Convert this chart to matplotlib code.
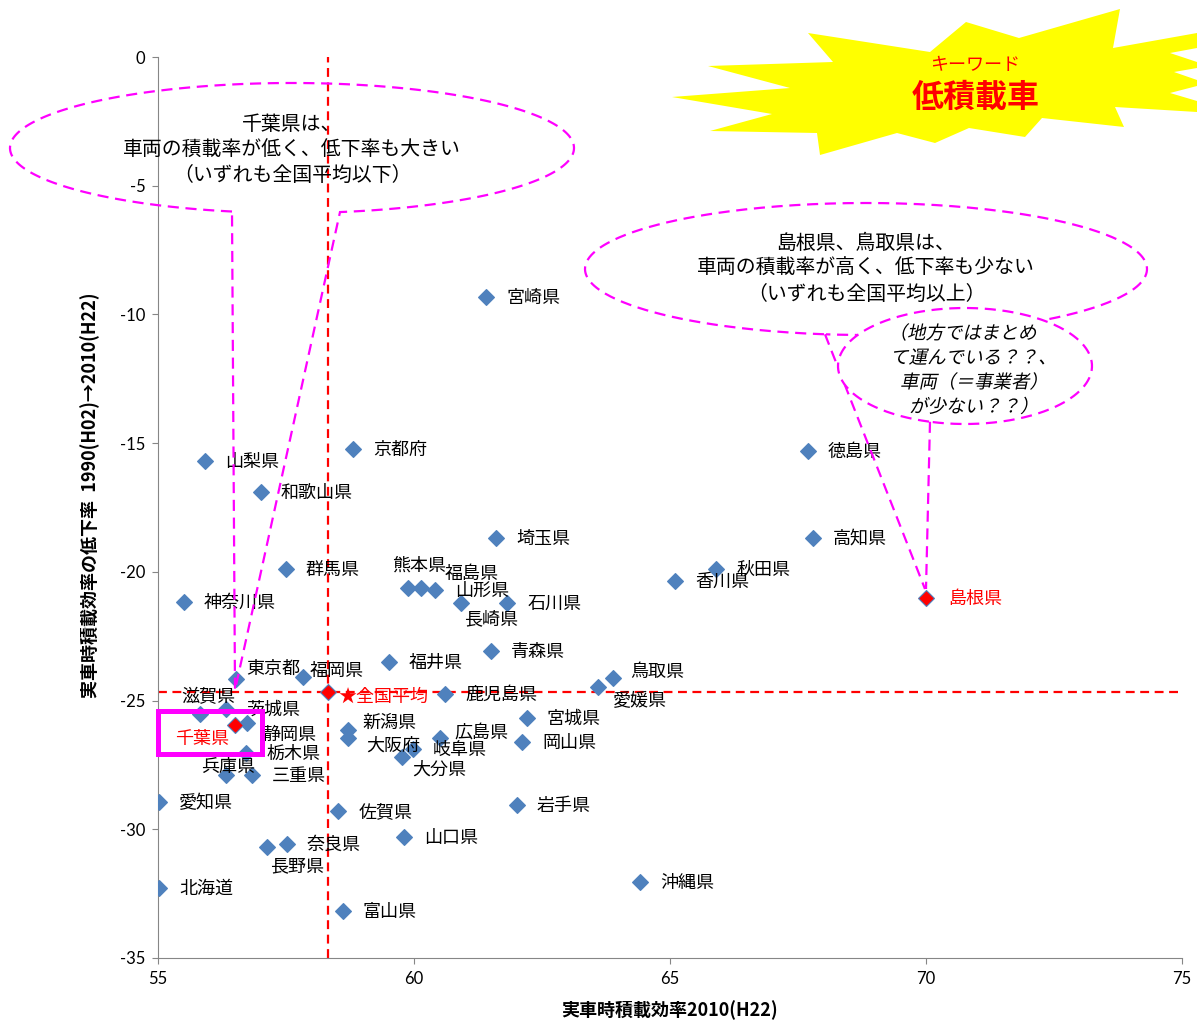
import numpy as np
import matplotlib
matplotlib.use("Agg")
import matplotlib.pyplot as plt
from matplotlib.patches import Polygon, Rectangle, PathPatch
from matplotlib.textpath import TextPath
from matplotlib.font_manager import FontProperties
from matplotlib.transforms import Affine2D

plt.rcParams["font.family"] = ["Noto Sans CJK JP", "DejaVu Sans"]
plt.rcParams["axes.unicode_minus"] = False

# 都道府県別 実車時積載効率(2010) と 1990→2010 の低下率
prefs = ["宮崎県", "京都府", "山梨県", "和歌山県", "徳島県", "埼玉県", "高知県", "群馬県",
         "秋田県", "香川県", "島根県", "神奈川県", "熊本県", "福島県", "山形県", "長崎県",
         "石川県", "青森県", "福井県", "鳥取県", "愛媛県", "東京都", "福岡県", "鹿児島県",
         "滋賀県", "茨城県", "静岡県", "千葉県", "栃木県", "兵庫県", "三重県", "新潟県",
         "大阪府", "広島県", "岐阜県", "大分県", "宮城県", "岡山県", "愛知県", "佐賀県",
         "岩手県", "山口県", "奈良県", "長野県", "北海道", "沖縄県", "富山県"]
load_eff = [61.41, 58.81, 55.92, 57.01, 67.69, 61.60, 67.79, 57.50,
            65.90, 65.10, 70.00, 55.51, 59.88, 60.14, 60.41, 60.92,
            61.82, 61.51, 59.51, 63.89, 63.59, 56.52, 57.83, 60.61,
            55.82, 56.33, 56.74, 56.50, 56.72, 56.33, 56.84, 58.71,
            58.71, 60.51, 59.98, 59.76, 62.20, 62.11, 55.02, 58.52,
            62.01, 59.80, 57.52, 57.12, 55.02, 64.41, 58.61]
decline = [-9.32, -15.22, -15.69, -16.89, -15.30, -18.68, -18.68, -19.88,
           -19.88, -20.35, -21.00, -21.17, -20.62, -20.62, -20.70, -21.20,
           -21.20, -23.07, -23.50, -24.12, -24.47, -24.17, -24.08, -24.74,
           -25.51, -25.32, -25.86, -25.94, -27.03, -27.88, -27.88, -26.14,
           -26.45, -26.45, -26.87, -27.18, -25.67, -26.60, -28.93, -29.28,
           -29.05, -30.29, -30.56, -30.68, -32.27, -32.04, -33.17]
avg_eff = 58.32
avg_decline = -24.66
highlight = ["千葉県", "島根県"]

# ラベル位置 (点からのずれ, px, 右・下が正)
label_shift = {"熊本県": (-16, -22), "福島県": (23, -14), "長崎県": (3, 16),
               "鳥取県": (17, -6), "愛媛県": (15, 14), "東京都": (10, -10),
               "福岡県": (7, -6), "滋賀県": (-19, -17), "静岡県": (15, 12),
               "千葉県": (-60, 14), "兵庫県": (-25, -8), "新潟県": (15, -7),
               "大阪府": (18, 8), "広島県": (14, -5), "大分県": (11, 13),
               "長野県": (3, 19), "島根県": (22, 1)}

BLUE = "#4F81BD"
RED = "#FF0000"
PINK = "#FF00FF"
DASH = (0, (5, 3))

W, H = 1197, 1021
fig = plt.figure(figsize=(W / 100, H / 100), dpi=100)
ax = fig.add_axes([158 / W, 1 - 958 / H, 1024 / W, 901 / H])

# 全国平均の基準線
ax.axvline(avg_eff, color=RED, lw=1.6, ls=(0, (4, 2.5)), zorder=1)
ax.axhline(avg_decline, color=RED, lw=1.6, ls=(0, (4, 2.5)), zorder=1)

for name, x, y in zip(prefs, load_eff, decline):
    red = name in highlight
    ax.plot(x, y, "D", ms=8, mfc=RED if red else BLUE, mec=BLUE, mew=0.8, zorder=3)
    dx, dy = label_shift.get(name, (20, 1))
    ax.annotate(name, (x, y), xytext=(dx, -dy), textcoords="offset pixels",
                ha="left", va="center", fontsize=13, color=RED if red else "black", zorder=4)

ax.plot(avg_eff, avg_decline, "D", ms=8, mfc=RED, mec=BLUE, mew=0.8, zorder=3)
ax.annotate("★全国平均", (avg_eff, avg_decline), xytext=(10, -5), textcoords="offset pixels",
            ha="left", va="center", fontsize=13, color=RED, zorder=4)

ax.set_xlim(55, 75)
ax.set_ylim(-35, 0)
ax.set_xticks(range(55, 76, 5))
ax.set_yticks(range(-35, 1, 5))
for side in ["top", "right"]:
    ax.spines[side].set_visible(False)
for side in ["left", "bottom"]:
    ax.spines[side].set_color("#868686")
ax.tick_params(direction="out", length=4, color="#868686", labelsize=12, pad=5)
for lbl in ax.get_xticklabels() + ax.get_yticklabels():
    lbl.set_fontfamily(["Lato", "DejaVu Sans"])

ax.set_xlabel("実車時積載効率2010(H22)", fontsize=13, fontweight="bold")
ax.xaxis.set_label_coords(0.5, -0.047)
ax.set_ylabel("実車時積載効率の低下率  1990(H02)→2010(H22)", fontsize=13, fontweight="bold")
ax.yaxis.set_label_coords(-0.057, 0.514)

# 注記用のレイヤー (ピクセル座標)
ov = fig.add_axes([0, 0, 1, 1])
ov.set_xlim(0, W)
ov.set_ylim(H, 0)
ov.axis("off")
ov.patch.set_alpha(0)

star = [(808, 33), (930, 52), (966, 22), (1019, 38), (1120, 9), (1113, 48), (1197, 33),
        (1197, 48), (1170, 53), (1197, 62), (1197, 68), (1174, 72), (1197, 80), (1197, 86),
        (1170, 93), (1197, 101), (1197, 112), (1115, 107), (1124, 127), (1042, 118),
        (1025, 137), (969, 128), (935, 143), (897, 133), (820, 155), (817, 133), (710, 131),
        (772, 114), (672, 97), (790, 88), (708, 66), (833, 62)]
ov.add_patch(Polygon(star, closed=True, fc="#FFFF00", ec="none", zorder=1))
ov.text(975, 65, "キーワード", ha="center", va="center", fontsize=13, color=RED, zorder=2)
ov.text(976, 98, "低積載車", ha="center", va="center", fontsize=23, fontweight="bold",
        color=RED, zorder=2)


def arc_pts(cx, cy, a, b, xl, xr):
    tl = np.arccos((xl - cx) / a)
    tr = np.arccos((xr - cx) / a)
    t = np.linspace(tl, tr + 2 * np.pi, 400)
    return cx + a * np.cos(t), cy + b * np.sin(t)


def bubble(cx, cy, a, b, xl, xr, tip, z=3):
    # 楕円＋三角のしっぽ
    xs, ys = arc_pts(cx, cy, a, b, xl, xr)
    ov.add_patch(Polygon(np.c_[np.r_[xs, tip[0]], np.r_[ys, tip[1]]], closed=True,
                         fc="none", ec=PINK, lw=1.6, ls=DASH, zorder=z))


def bubble_line(cx, cy, a, b, x0, tip, fill=False, z=3):
    # 楕円＋線一本のしっぽ
    xs, ys = arc_pts(cx, cy, a, b, x0 - 1, x0 + 1)
    if fill:
        ov.fill(xs, ys, color="white", zorder=z)
    ov.plot(xs, ys, color=PINK, lw=1.6, ls=DASH, zorder=z)
    y0 = cy + b * np.sqrt(1 - ((x0 - cx) / a) ** 2)
    ov.plot([x0, tip[0]], [y0, tip[1]], color=PINK, lw=1.6, ls=DASH, zorder=z)


bubble(292, 148, 282, 65, 232, 340, (235, 690))
for i, line in enumerate(["千葉県は、", "車両の積載率が低く、低下率も大きい", "（いずれも全国平均以下）"]):
    ov.text(292, 125 + 25 * i, line, ha="center", va="center", fontsize=14.3, zorder=4)

bubble_line(866, 269, 281, 66, 825, (925, 589))
for i, line in enumerate(["島根県、鳥取県は、", "車両の積載率が高く、低下率も少ない", "（いずれも全国平均以上）"]):
    ov.text(866, 243 + 25.5 * i, line, ha="center", va="center", fontsize=14.3, zorder=4)

bubble_line(965, 366, 127, 58, 930, (926, 589), fill=True, z=3.5)

# 斜体の注記 (CJK フォントに斜体がないため傾けて描く)
fp = FontProperties(family="Noto Sans CJK JP")
for i, line in enumerate(["（地方ではまとめ", "て運んでいる？？、", "車両（＝事業者）", "が少ない？？）"]):
    tp = TextPath((0, 0), line, size=18.5, prop=fp)
    bb = tp.get_extents()
    tr = (Affine2D().translate(-(bb.x0 + bb.width / 2), 0).skew_deg(12, 0)
          .scale(1, -1).translate(968, 339 + 24.5 * i) + ov.transData)
    ov.add_patch(PathPatch(tp, transform=tr, fc="black", ec="none", zorder=5))

# 千葉県ラベルの枠
ov.add_patch(Rectangle((158, 711), 104, 43, fc="none", ec=PINK, lw=3.6, zorder=3))

fig.savefig("out.png", dpi=100)
